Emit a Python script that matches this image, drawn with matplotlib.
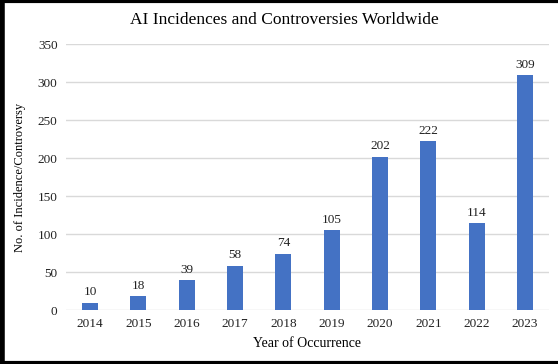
import matplotlib.pyplot as plt
from matplotlib.lines import Line2D

years = ['2014', '2015', '2016', '2017', '2018', '2019', '2020', '2021', '2022', '2023']
counts = [10, 18, 39, 58, 74, 105, 202, 222, 114, 309]

plt.rcParams['font.family'] = ['Liberation Serif', 'DejaVu Serif']

fig = plt.figure(figsize=(5.58, 3.64), dpi=100)
ax = fig.add_axes([0.118, 0.148, 0.866, 0.731])

bars = ax.bar(range(len(years)), counts, width=0.33, color='#4472C4', zorder=3)
for b, v in zip(bars, counts):
    ax.text(b.get_x() + b.get_width() / 2, v + 6, str(v), ha='center', va='bottom',
            fontsize=9.5, color='#222222')

ax.set_ylim(0, 350)
ax.set_xlim(-0.5, len(years) - 0.5)
ax.set_yticks(range(0, 351, 50))
ax.set_xticks(range(len(years)))
ax.set_xticklabels(years)
ax.yaxis.grid(True, color='#d9d9d9', linewidth=1, zorder=0)
for s in ax.spines.values():
    s.set_visible(False)
ax.tick_params(axis='both', length=0, labelsize=9.5, colors='#222222', pad=6)

# title is centred on the whole picture, not on the plot area
fig.text(0.509, 0.945, 'AI Incidences and Controversies Worldwide', ha='center', va='center',
         fontsize=12.5)
ax.set_xlabel('Year of Occurrence', fontsize=10, labelpad=5)
ax.set_ylabel('No. of Incidence/Controversy', fontsize=9, labelpad=8)

# frame around the picture (left, top, bottom)
fig.add_artist(Line2D([0.004, 0.004], [0, 1], transform=fig.transFigure, color='black', linewidth=4))
fig.add_artist(Line2D([0, 1], [0.997, 0.997], transform=fig.transFigure, color='black', linewidth=3))
fig.add_artist(Line2D([0, 1], [0.004, 0.004], transform=fig.transFigure, color='black', linewidth=3))

plt.savefig('out.png', dpi=100)
